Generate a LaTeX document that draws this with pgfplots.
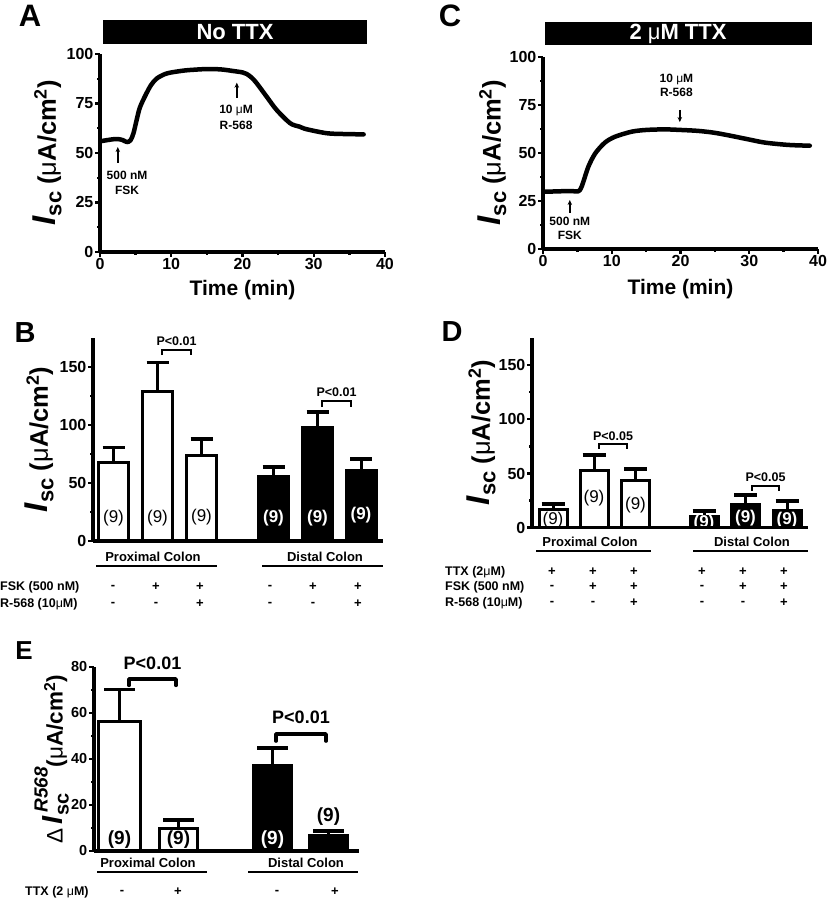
\documentclass[border=0pt]{standalone}
\usepackage{pgfplots}
\pgfplotsset{compat=1.18}
\usepackage{fontspec}
\setmainfont{Liberation Sans}
\usetikzlibrary{arrows.meta}
\newcommand{\fs}[1]{\fontsize{#1}{#1}\selectfont}
\newcommand{\um}{{\mdseries μ}}
\newcommand{\IscLab}{{\fs{33}\textit{I}}{\fs{22}\raisebox{-0.25em}{sc}} (\um A/cm\textsuperscript{2})}
\pgfplotsset{
  myax/.style={
    scale only axis, axis lines=left,
    axis line style={line width=3.2pt,-},
    every tick/.style={black, line width=2.4pt},
    tick align=outside, major tick length=5pt, minor tick length=3pt,
    clip=false, axis on top,
    /pgf/number format/assume math mode=true,
    ticklabel style={font=\fs{16}\bfseries, inner sep=1.5pt},
    every axis y label/.style={rotate=90, anchor=center, font=\fs{25.5}\bfseries},
    every axis x label/.style={anchor=center, font=\fs{21}\bfseries},
  },
  barax/.style={myax, xtick=\empty, ymin=0},
  bst/.style={ybar, bar shift=0pt, draw=black, line width=3pt,
    /pgfplots/error bars/y dir=plus, /pgfplots/error bars/y explicit,
    /pgfplots/error bars/error bar style={line width=3pt, black},
    /pgfplots/error bars/error mark options={rotate=90, mark size=#1, line width=3.5pt, black}},
}
\begin{document}
\begin{tikzpicture}
\useasboundingbox (0pt,0pt) rectangle (830pt,899pt);
% ---------------- Panel A ----------------
\begin{axis}[myax, at={(100pt,647pt)}, anchor=south west, width=285pt, height=198pt,
  xmin=0, xmax=40, ymin=0, ymax=100, xtick={0,10,...,40}, ytick={0,25,...,100},
  minor x tick num=1, minor y tick num=1,
  xlabel={Time (min)}, xlabel style={at={(axis description cs:0.5,-0.19)}},
  ylabel={\IscLab}, ylabel style={at={(axis description cs:-0.185,0.5)}}]
\addplot[line width=4.5pt, smooth, line join=round, line cap=round] coordinates {
(0.2,56) (1,56.5) (2,57) (2.6,57) (3.2,56.5) (3.8,55.5) (4.3,56.5) (4.7,60) (5.1,66)
(5.6,73) (6.5,80) (7.2,84.5) (8,87.7) (9.4,90.2) (11.7,91.6) (13,92) (15,92.4) (17,92.2)
(18.7,91.4) (20,90.7) (20.6,89.9) (21.3,88) (22,85.2) (23.4,78.4) (24.8,71.7) (26.7,65)
(28,63.3) (29,62) (31.8,60) (34,59.6) (37,59.4)};
\draw[line width=1.4pt, -{Stealth[length=5pt,width=4.5pt]}] (axis cs:2.5,45) -- (axis cs:2.5,53);
\node[font=\fs{12}\bfseries] at (axis cs:3.8,38.9) {500 nM};
\node[font=\fs{12}\bfseries] at (axis cs:3.8,31.3) {FSK};
\draw[line width=1.4pt, -{Stealth[length=5pt,width=4.5pt]}] (axis cs:19.2,77.8) -- (axis cs:19.2,85.5);
\node[font=\fs{12}\bfseries] at (axis cs:19.1,71.7) {10 \um M};
\node[font=\fs{12}\bfseries] at (axis cs:19.1,64) {R-568};
\end{axis}
% ---------------- Panel C ----------------
\begin{axis}[myax, at={(543pt,650pt)}, anchor=south west, width=275pt, height=192pt,
  xmin=0, xmax=40, ymin=0, ymax=100, xtick={0,10,...,40}, ytick={0,25,...,100},
  minor x tick num=1, minor y tick num=1,
  xlabel={Time (min)}, xlabel style={at={(axis description cs:0.5,-0.21)}},
  ylabel={\IscLab}, ylabel style={at={(axis description cs:-0.185,0.5)}}]
\addplot[line width=4.5pt, smooth, line join=round, line cap=round] coordinates {
(0.05,29.8) (2,30) (4,30.2) (5.1,30) (5.5,31.5) (5.87,35) (6.6,42.9) (7.6,49.8) (9,55.4)
(10.5,58.5) (12.9,61.1) (15,62) (17.7,62.3) (20,62) (22.6,61.5) (25,60.5) (27.4,58.9)
(30,57) (32.3,55.4) (35.7,54.2) (38.8,53.8)};
\draw[line width=1.4pt, -{Stealth[length=5pt,width=4.5pt]}] (axis cs:3.9,18.8) -- (axis cs:3.9,25.5);
\node[font=\fs{12}\bfseries] at (axis cs:3.9,14.6) {500 nM};
\node[font=\fs{12}\bfseries] at (axis cs:3.9,7.3) {FSK};
\draw[line width=1.4pt, -{Stealth[length=5pt,width=4.5pt]}] (axis cs:19.9,72.4) -- (axis cs:19.9,66.1);
\node[font=\fs{12}\bfseries] at (axis cs:19.4,88.5) {10 \um M};
\node[font=\fs{12}\bfseries] at (axis cs:19.4,81.4) {R-568};
\end{axis}
% ---------------- Panel B ----------------
\begin{axis}[barax, at={(93pt,358pt)}, anchor=south west, width=290pt, height=203pt,
  xmin=93, xmax=383, ymax=175, ytick={0,50,100,150}, minor y tick num=1,
  ylabel={\IscLab}, ylabel style={at={(axis description cs:-0.185,0.5)}}]
\addplot[bst=11pt, fill=white, bar width=30] coordinates {
(113.5,67.5) +- (0,13.2) (157.5,129) +- (0,25) (201.5,73.5) +- (0,14.5)};
\addplot[bst=11pt, fill=black, bar width=30] coordinates {
(273.5,56) +- (0,8) (317.5,97.7) +- (0,13.3) (361,61) +- (0,9.7)};
\node[font=\fs{17}] at (axis cs:113.5,20) {(9)};
\node[font=\fs{17}] at (axis cs:157.5,20) {(9)};
\node[font=\fs{17}] at (axis cs:201.5,20.7) {(9)};
\node[font=\fs{17}\bfseries, white] at (axis cs:273.5,20) {(9)};
\node[font=\fs{17}\bfseries, white] at (axis cs:317.5,20) {(9)};
\node[font=\fs{17}\bfseries, white] at (axis cs:361,22) {(9)};
\draw[line width=1.4pt] (axis cs:162,160.3) -- (axis cs:162,164.7) -- (axis cs:191,164.7) -- (axis cs:191,160.3);
\node[font=\fs{12.5}\bfseries] at (axis cs:176.5,172.4) {P<0.01};
\draw[line width=1.4pt] (axis cs:322,115.5) -- (axis cs:322,120.7) -- (axis cs:351,120.7) -- (axis cs:351,115.5);
\node[font=\fs{12.5}\bfseries] at (axis cs:336.5,128.4) {P<0.01};
\end{axis}
% ---------------- Panel D ----------------
\begin{axis}[barax, at={(532pt,371.3pt)}, anchor=south west, width=276pt, height=189.7pt,
  xmin=532, xmax=808, ymax=175, ytick={0,50,100,150}, minor y tick num=1,
  ylabel={\IscLab}, ylabel style={at={(axis description cs:-0.183,0.5)}}]
\addplot[bst=11.5pt, fill=white, bar width=28] coordinates {
(553,17.2) +- (0,4.7) (594,52.6) +- (0,14.4) (635.5,43.4) +- (0,10.7)};
\addplot[bst=11.5pt, fill=black, bar width=28] coordinates {
(704,10.2) +- (0,5.2) (745.5,21.6) +- (0,8.6) (787,16.3) +- (0,8.3)};
\node[font=\fs{17}] at (axis cs:553,7) {(9)};
\node[font=\fs{17}] at (axis cs:594,27) {(9)};
\node[font=\fs{17}] at (axis cs:635.5,21) {(9)};
\node[font=\fs{17}\bfseries, white] at (axis cs:704,3.9) {(9)};
\node[font=\fs{17}\bfseries, white] at (axis cs:745.5,8.5) {(9)};
\node[font=\fs{17}\bfseries, white] at (axis cs:787,7.1) {(9)};
\draw[line width=1.4pt] (axis cs:599,72.6) -- (axis cs:599,77.2) -- (axis cs:627,77.2) -- (axis cs:627,72.6);
\node[font=\fs{12.5}\bfseries] at (axis cs:613,84) {P<0.05};
\draw[line width=1.4pt] (axis cs:752,33.9) -- (axis cs:752,38.5) -- (axis cs:779,38.5) -- (axis cs:779,33.9);
\node[font=\fs{12.5}\bfseries] at (axis cs:765.5,47) {P<0.05};
\end{axis}
% ---------------- Panel E ----------------
\begin{axis}[barax, at={(94pt,48pt)}, anchor=south west, width=265pt, height=184pt,
  xmin=94, xmax=359, ymax=80, ytick={0,20,...,80}, minor y tick num=1,
  ticklabel style={font=\fs{14.5}\bfseries},
  ylabel={{\mdseries Δ}\,{\fs{29}\textit{I}}\rlap{\fs{20}\raisebox{-0.3em}{sc}}{\fs{19}\raisebox{0.8em}{\,\textit{R568}}}(\um A/cm\textsuperscript{2})},
  ylabel style={at={(axis description cs:-0.16,0.5)}, font=\fs{22.5}\bfseries}]
\addplot[bst=15.5pt, fill=white, bar width=42] coordinates {(119.5,56.2) +- (0,14.1)};
\addplot[bst=15.5pt, fill=white, bar width=38] coordinates {(178.5,9.9) +- (0,3.6)};
\addplot[bst=15.5pt, fill=black, bar width=38] coordinates {(272.5,37.1) +- (0,7.6) (328.5,6.7) +- (0,2)};
\node[font=\fs{19}\bfseries] at (axis cs:119.5,4.8) {(9)};
\node[font=\fs{19}\bfseries] at (axis cs:178.5,4.8) {(9)};
\node[font=\fs{19}\bfseries, white] at (axis cs:272.5,4.8) {(9)};
\node[font=\fs{19}\bfseries] at (axis cs:328.5,14.8) {(9)};
\draw[line width=3.5pt, line cap=round, line join=round] (axis cs:129,72) -- (axis cs:129,74.8) -- (axis cs:176,74.8) -- (axis cs:176,72);
\node[font=\fs{18}\bfseries] at (axis cs:152.5,81.7) {P<0.01};
\draw[line width=3.5pt, line cap=round, line join=round] (axis cs:276,47.8) -- (axis cs:276,50.9) -- (axis cs:326,50.9) -- (axis cs:326,47.8);
\node[font=\fs{18}\bfseries] at (axis cs:301,58.3) {P<0.01};
\end{axis}
% ---------------- global annotations (pixel coordinates, y down) ----------------
\begin{scope}[shift={(0pt,899pt)}, x=1pt, y=-1pt]
\fill (103,20) rectangle (367,44);
\node[white, font=\fs{22}\bfseries] at (235,32) {No TTX};
\node[font=\fs{31}\bfseries] at (30,16) {A};
\fill (545,22) rectangle (812,45);
\node[white, font=\fs{22}\bfseries] at (678,34) {2 \um M TTX};
\node[font=\fs{31}\bfseries] at (450,16) {C};
\node[font=\fs{29}\bfseries] at (25,333) {B};
\node[font=\fs{13}\bfseries] at (153,557) {Proximal Colon};
\node[font=\fs{13}\bfseries] at (325,557) {Distal Colon};
\draw[line width=1.4pt] (96,566) -- (217,566);
\draw[line width=1.4pt] (262,566) -- (383,566);
\node[font=\fs{12.5}\bfseries, anchor=west, inner sep=0pt] at (0,587) {FSK (500 nM)};
\node[font=\fs{12.5}\bfseries, anchor=west, inner sep=0pt] at (0,604) {R-568 (10\um M)};
\foreach \xx/\s in {113/-,156/+,200/+,270/-,313/+,358/+}{
  \node[font=\fs{13}\bfseries] at (\xx,587) {\s};}
\foreach \xx/\s in {113/-,156/-,200/+,270/-,313/-,358/+}{
  \node[font=\fs{13}\bfseries] at (\xx,604) {\s};}
\node[font=\fs{29}\bfseries] at (452,332) {D};
\node[font=\fs{13}\bfseries] at (590,542) {Proximal Colon};
\node[font=\fs{13}\bfseries] at (752,542) {Distal Colon};
\draw[line width=1.4pt] (536,551) -- (651,551);
\draw[line width=1.4pt] (693,551) -- (808,551);
\node[font=\fs{12.5}\bfseries, anchor=west, inner sep=0pt] at (445,572) {TTX (2\um M)};
\node[font=\fs{12.5}\bfseries, anchor=west, inner sep=0pt] at (445,587) {FSK (500 nM)};
\node[font=\fs{12.5}\bfseries, anchor=west, inner sep=0pt] at (445,603) {R-568 (10\um M)};
\foreach \xx/\s in {552/+,593/+,634/+,702/+,743/+,784/+}{
  \node[font=\fs{13}\bfseries] at (\xx,572) {\s};}
\foreach \xx/\s in {552/-,593/+,634/+,702/-,743/+,784/+}{
  \node[font=\fs{13}\bfseries] at (\xx,587) {\s};}
\foreach \xx/\s in {552/-,593/-,634/+,702/-,743/-,784/+}{
  \node[font=\fs{13}\bfseries] at (\xx,603) {\s};}
\node[font=\fs{26}\bfseries] at (24,651) {E};
\node[font=\fs{13}\bfseries] at (148,863) {Proximal Colon};
\node[font=\fs{13}\bfseries] at (306,863) {Distal Colon};
\draw[line width=1.4pt] (97,872) -- (207,872);
\draw[line width=1.4pt] (248,872) -- (358,872);
\node[font=\fs{12.5}\bfseries, anchor=west, inner sep=0pt] at (25,892) {TTX (2 \um M)};
\foreach \xx/\s in {122/-,178/+,277/-,335/+}{
  \node[font=\fs{13}\bfseries] at (\xx,892) {\s};}
\end{scope}
\end{tikzpicture}
\end{document}
